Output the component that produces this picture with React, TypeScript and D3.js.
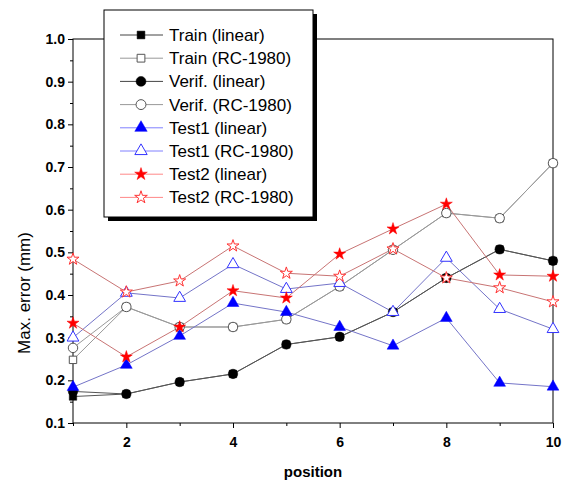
import React, { useEffect, useRef } from 'react';
import * as d3 from 'd3';

const positions = [1, 2, 3, 4, 5, 6, 7, 8, 9, 10];

const trainLinear = [0.162, 0.168, 0.196, 0.215, 0.284, 0.302, 0.36, 0.44, 0.507, 0.48];
const trainRC = [0.248, 0.372, 0.325, 0.325, 0.343, 0.42, 0.506, 0.592, 0.58, 0.709];
const verifLinear = [0.174, 0.168, 0.196, 0.215, 0.284, 0.302, 0.36, 0.44, 0.507, 0.48];
const verifRC = [0.276, 0.372, 0.325, 0.325, 0.343, 0.42, 0.506, 0.592, 0.58, 0.709];
const test1Linear = [0.184, 0.236, 0.304, 0.381, 0.36, 0.325, 0.281, 0.346, 0.194, 0.185];
const test1RC = [0.3, 0.405, 0.393, 0.472, 0.414, 0.428, 0.36, 0.487, 0.367, 0.32];
const test2Linear = [0.334, 0.255, 0.325, 0.41, 0.393, 0.496, 0.555, 0.613, 0.447, 0.444];
const test2RC = [0.484, 0.407, 0.433, 0.515, 0.451, 0.444, 0.508, 0.44, 0.417, 0.384];

const seriesNames = [
  'Train (linear)', 'Train (RC-1980)', 'Verif. (linear)', 'Verif. (RC-1980)',
  'Test1 (linear)', 'Test1 (RC-1980)', 'Test2 (linear)', 'Test2 (RC-1980)',
];
const seriesValues = [trainLinear, trainRC, verifLinear, verifRC, test1Linear, test1RC, test2Linear, test2RC];

const yTicks = [0.1, 0.2, 0.3, 0.4, 0.5, 0.6, 0.7, 0.8, 0.9, 1.0];
const xTicks = [2, 4, 6, 8, 10];

type Style = { line: string; mark: string; shape: d3.SymbolType; size: number; filled: boolean };
const styles: Style[] = [
  { line: '#555', mark: '#000', shape: d3.symbolSquare, size: 55, filled: true },
  { line: '#999', mark: '#555', shape: d3.symbolSquare, size: 55, filled: false },
  { line: '#555', mark: '#000', shape: d3.symbolCircle, size: 70, filled: true },
  { line: '#999', mark: '#555', shape: d3.symbolCircle, size: 70, filled: false },
  { line: '#7474c8', mark: '#0000ff', shape: d3.symbolTriangle, size: 60, filled: true },
  { line: '#7474c8', mark: '#3333ff', shape: d3.symbolTriangle, size: 60, filled: false },
  { line: '#c87474', mark: '#ff0000', shape: d3.symbolStar, size: 45, filled: true },
  { line: '#c87474', mark: '#ff3333', shape: d3.symbolStar, size: 45, filled: false },
];

const App = () => {
  const ref = useRef<SVGSVGElement>(null);

  useEffect(() => {
    const svg = d3.select(ref.current);
    svg.selectAll('*').remove();

    const left = 73, right = 553, top = 39, bottom = 423;
    const x = d3.scaleLinear().domain([1, 10]).range([left, right]);
    const y = d3.scaleLinear().domain([0.1, 1.0]).range([bottom, top]);
    const font = 'Arial, "Liberation Sans", sans-serif';

    // frame
    svg.append('rect')
      .attr('x', left).attr('y', top)
      .attr('width', right - left).attr('height', bottom - top)
      .attr('fill', 'none').attr('stroke', '#000').attr('stroke-width', 1);

    // y axis
    const yAxis = svg.append('g').attr('transform', `translate(${left},0)`)
      .call(d3.axisLeft(y).tickValues(yTicks).tickSize(5).tickFormat(d3.format('.1f')));
    svg.append('g').attr('transform', `translate(${left},0)`)
      .call(d3.axisLeft(y).tickValues(d3.range(0.15, 1.0, 0.1)).tickSize(3).tickFormat(() => ''));

    // x axis
    const xAxis = svg.append('g').attr('transform', `translate(0,${bottom})`)
      .call(d3.axisBottom(x).tickValues(xTicks).tickSize(5).tickFormat(d3.format('d')));
    svg.append('g').attr('transform', `translate(0,${bottom})`)
      .call(d3.axisBottom(x).tickValues([1, 3, 5, 7, 9]).tickSize(3).tickFormat(() => ''));

    svg.selectAll('.domain').remove();
    [yAxis, xAxis].forEach((a) => {
      a.selectAll('text')
        .style('font-family', font)
        .style('font-size', '14px')
        .style('font-weight', 'bold')
        .attr('fill', '#000');
    });
    yAxis.selectAll('text').attr('x', -8);
    xAxis.selectAll('text').attr('y', 14);

    // axis titles
    svg.append('text')
      .attr('x', (left + right) / 2).attr('y', 477)
      .attr('text-anchor', 'middle')
      .style('font-family', font).style('font-size', '15px').style('font-weight', 'bold')
      .text('position');

    svg.append('text')
      .attr('transform', 'translate(30,293) rotate(-90)')
      .attr('text-anchor', 'middle')
      .style('font-family', font).style('font-size', '17px')
      .text('Max. error (mm)');

    // series
    const line = d3.line<number>()
      .x((d, i) => x(positions[i]))
      .y((d) => y(d));

    seriesValues.forEach((vals, k) => {
      const s = styles[k];
      svg.append('path')
        .datum(vals)
        .attr('d', line)
        .attr('fill', 'none')
        .attr('stroke', s.line)
        .attr('stroke-width', 1);
    });
    seriesValues.forEach((vals, k) => {
      const s = styles[k];
      const sym = d3.symbol().type(s.shape).size(s.size);
      svg.append('g').selectAll('path')
        .data(vals)
        .join('path')
        .attr('transform', (d, i) => `translate(${x(positions[i])},${y(d)})`)
        .attr('d', sym)
        .attr('fill', s.filled ? s.mark : '#fff')
        .attr('stroke', s.mark)
        .attr('stroke-width', s.filled ? 0.5 : 1);
    });

    // legend
    const lg = svg.append('g');
    lg.append('rect').attr('x', 108).attr('y', 14).attr('width', 209).attr('height', 207).attr('fill', '#000');
    lg.append('rect').attr('x', 104).attr('y', 10).attr('width', 209).attr('height', 207)
      .attr('fill', '#fff').attr('stroke', '#000').attr('stroke-width', 1);

    const legendLine = ['#444', '#999', '#444', '#999', '#8080ff', '#8080ff', '#ff8888', '#ff8888'];
    seriesNames.forEach((name, k) => {
      const s = styles[k];
      const yy = 35 + k * 23.2;
      lg.append('line').attr('x1', 120).attr('x2', 163).attr('y1', yy).attr('y2', yy)
        .attr('stroke', legendLine[k]).attr('stroke-width', 1);
      lg.append('path')
        .attr('transform', `translate(141,${yy})`)
        .attr('d', d3.symbol().type(s.shape).size(s.size * 1.1))
        .attr('fill', s.filled ? s.mark : '#fff')
        .attr('stroke', s.mark)
        .attr('stroke-width', s.filled ? 0.5 : 1);
      lg.append('text')
        .attr('x', 169).attr('y', yy + 6)
        .style('font-family', font).style('font-size', '17px')
        .text(name);
    });
  }, []);

  return (
    <svg ref={ref} width={564} height={482}
      style={{ position: 'absolute', left: 0, top: 0, background: '#fff' }} />
  );
};

export default App;
